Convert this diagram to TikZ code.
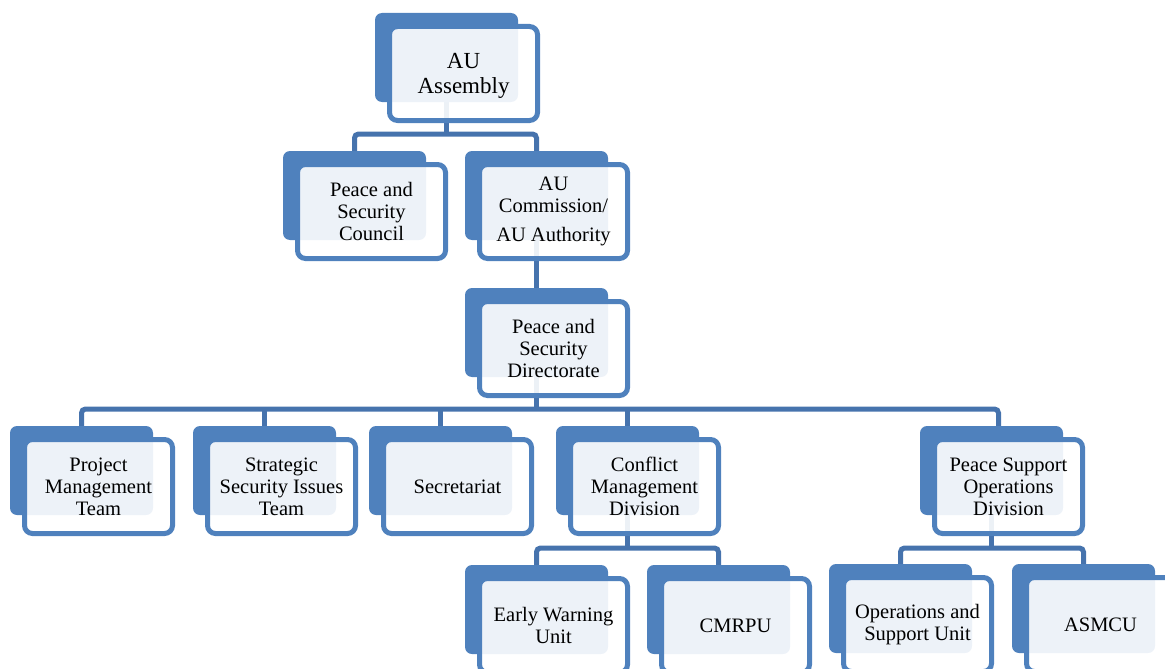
\documentclass[tikz,border=0pt]{standalone}
\usepackage{fontspec}
\setmainfont{Liberation Serif}
\usetikzlibrary{backgrounds,calc}
\definecolor{boxblue}{HTML}{4F81BD}
\definecolor{connblue}{HTML}{4673AD}
\tikzset{
  backbox/.style={fill=boxblue, rounded corners=7pt, minimum width=143pt, minimum height=89pt, inner sep=0pt, outer sep=0pt},
  frontbox/.style={draw=boxblue, line width=5pt, fill=white, fill opacity=0.9, rounded corners=8pt, minimum width=148pt, minimum height=94pt, inner sep=0pt, outer sep=0pt},
  boxtext/.style={align=center, font=\fontsize{20.5}{22}\selectfont, text=black, inner sep=0pt},
  conn/.style={draw=connblue, line width=5pt, rounded corners=4pt},
}
\newcommand\orgbox[5][]{%
  \node[backbox] (#2) at (#3+71.5,#4+44.5) {};
  \node[frontbox] (#2f) at (#3+88.5,#4+60.5) {};
  \node[boxtext,#1] (#2t) at (#3+88.5,#4+60.5) {#5};
}
\begin{document}
\begin{tikzpicture}[x=1pt,y=-1pt]
\useasboundingbox (0,0) rectangle (1165,669);
\clip (0,0) rectangle (1165,669);
\orgbox[font=\fontsize{23}{25}\selectfont, yshift=-2.5pt]{asm}{375}{13}{AU\\Assembly}
\orgbox{psc}{283}{151}{Peace and\\Security\\Council}
\orgbox{auc}{465}{151}{AU\\Commission/\\[7pt]AU Authority}
\orgbox{psd}{465}{288}{Peace and\\Security\\Directorate}
\orgbox{pmt}{10}{426}{Project\\Management\\Team}
\orgbox{ssit}{193}{426}{Strategic\\Security Issues\\Team}
\orgbox{sec}{369}{426}{Secretariat}
\orgbox{cmd}{556}{426}{Conflict\\Management\\Division}
\orgbox{psod}{920}{426}{Peace Support\\Operations\\Division}
\orgbox{ewu}{465}{565}{Early Warning\\Unit}
\orgbox{cmrpu}{647}{565}{CMRPU}
\orgbox{osu}{829}{564}{Operations and\\Support Unit}
\orgbox{asmcu}{1012}{564}{ASMCU}
\begin{pgfonlayer}{background}
  \coordinate (b1) at (0,134);
  \coordinate (b2) at (0,409);
  \coordinate (b3) at (0,548);
  \coordinate (psodin) at ($(psod.north)+(7,0)$);
  \draw[conn] (asm.south) -- (asm.south |- b1);
  \draw[conn] (psc.north) |- (auc.north |- b1) -- (auc.north);
  \draw[conn] (auc.south) -- (psd.north);
  \draw[conn] (psd.south) -- (psd.south |- b2);
  \draw[conn] (pmt.north) |- (psodin |- b2) -- (psodin);
  \draw[conn] (ssit.north) -- (ssit.north |- b2);
  \draw[conn] (sec.north) -- (sec.north |- b2);
  \draw[conn] (cmd.north) -- (cmd.north |- b2);
  \draw[conn] (cmd.south) -- (cmd.south |- b3);
  \draw[conn] (ewu.north) |- (cmrpu.north |- b3) -- (cmrpu.north);
  \draw[conn] (psod.south) -- (psod.south |- b3);
  \draw[conn] (osu.north) |- (asmcu.north |- b3) -- (asmcu.north);
\end{pgfonlayer}
\end{tikzpicture}
\end{document}
